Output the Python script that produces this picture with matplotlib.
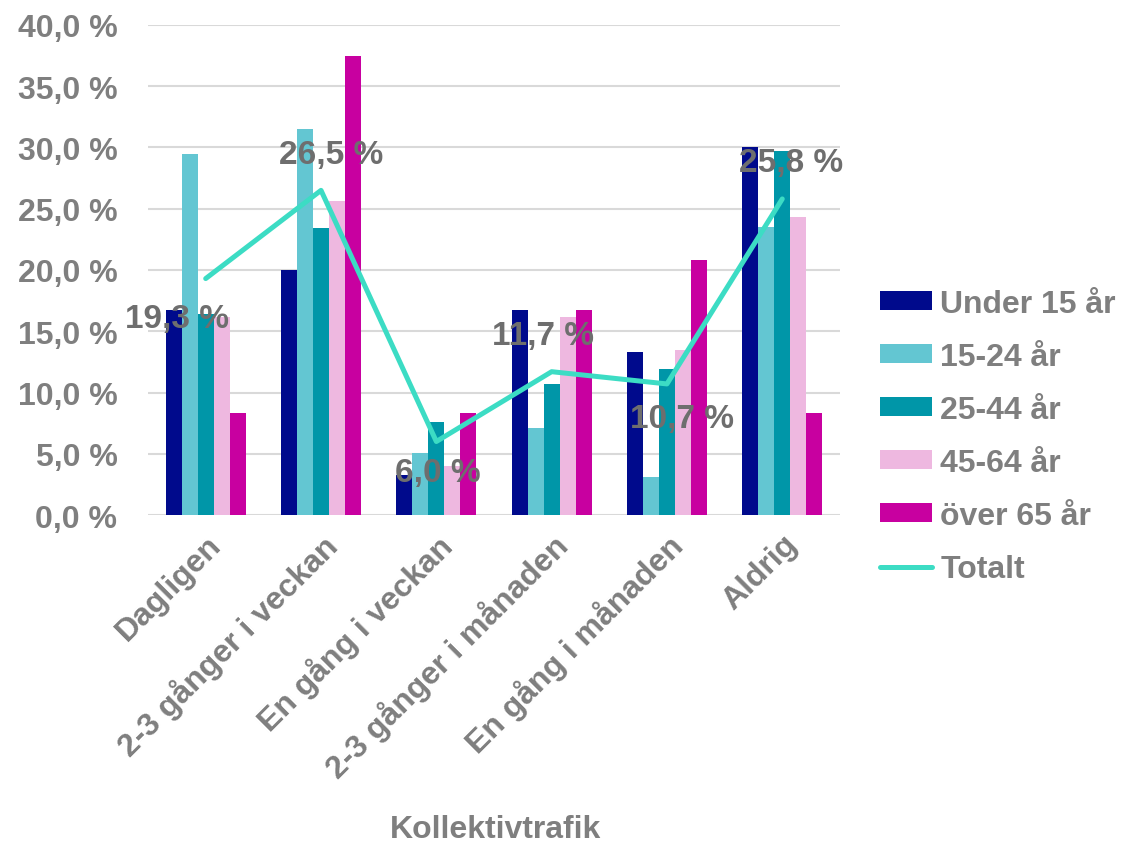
import matplotlib.pyplot as plt
import numpy as np

plt.rcParams['font.family'] = ['Liberation Sans', 'DejaVu Sans']

# Data
categories = ['Dagligen', '2-3 gånger i veckan', 'En gång i veckan',
              '2-3 gånger i månaden', 'En gång i månaden', 'Aldrig']
under_15 = [16.7, 20.0, 3.3, 16.7, 13.3, 30.0]
age_15_24 = [29.5, 31.5, 5.1, 7.1, 3.1, 23.5]
age_25_44 = [16.4, 23.4, 7.6, 10.7, 11.9, 29.7]
age_45_64 = [16.2, 25.6, 4.0, 16.2, 13.5, 24.3]
over_65 = [8.3, 37.5, 8.3, 16.7, 20.8, 8.3]
totalt = [19.3, 26.5, 6.0, 11.7, 10.7, 25.8]

series = [
    ('Under 15 år', under_15, '#000a8c'),
    ('15-24 år', age_15_24, '#63c6d2'),
    ('25-44 år', age_25_44, '#0096a8'),
    ('45-64 år', age_45_64, '#eeb8e0'),
    ('över 65 år', over_65, '#c800a0'),
]

gray = '#7f7f7f'
fig = plt.figure(figsize=(11.25, 8.45), dpi=100)
ax = fig.add_axes([0.1316, 0.3893, 0.615, 0.58])

x = np.arange(len(categories))
w = 0.139
for i, (name, vals, col) in enumerate(series):
    ax.bar(x + (i - 2) * w, vals, width=w, color=col, label=name, zorder=2)

ax.plot(x, totalt, color='#3cdcc4', linewidth=3.6, label='Totalt', zorder=3,
        solid_capstyle='round')

# data labels for the total line (placement offsets in points)
label_dx = [-21, 7, 1, -6, 11, 6]
label_dy = [-29, 26, -22, 26, -25, 26]
for xi, v, dx, dy in zip(x, totalt, label_dx, label_dy):
    ax.annotate(f'{v:.1f} %'.replace('.', ','), (xi, v), xytext=(dx, dy),
                textcoords='offset points', ha='center', va='center',
                fontsize=24, fontweight='bold', color='#6e6e6e', zorder=4)

ax.set_xlim(-0.5, 5.5)
ax.set_ylim(0, 40)
ax.set_yticks(np.arange(0, 41, 5))
ax.set_yticklabels([f'{t:.1f} %'.replace('.', ',') for t in np.arange(0, 41, 5)])
ax.set_xticks(x)
ax.set_xticklabels(categories, rotation=45, ha='right', va='top',
                   rotation_mode='anchor')
ax.tick_params(length=0, labelsize=23, labelcolor=gray)
ax.tick_params(axis='y', pad=22)
ax.tick_params(axis='x', pad=10)
for lab in ax.get_xticklabels() + ax.get_yticklabels():
    lab.set_fontweight('bold')

ax.grid(axis='y', color='#d9d9d9', linewidth=1.5, zorder=0)
ax.set_axisbelow(True)
for s in ax.spines.values():
    s.set_visible(False)

fig.text(0.44, 1 - 830 / 845, 'Kollektivtrafik', fontsize=23,
         fontweight='bold', color=gray, ha='center', va='center')

handles, labels = ax.get_legend_handles_labels()
order = [1, 2, 3, 4, 5, 0]
leg = fig.legend([handles[i] for i in order], [labels[i] for i in order],
                 loc='center left', bbox_to_anchor=(0.757, 0.482),
                 frameon=False, fontsize=23, labelspacing=0.72,
                 handlelength=1.63, handleheight=0.53, handletextpad=0.25)
for t in leg.get_texts():
    t.set_color(gray)
    t.set_fontweight('bold')

plt.savefig('out.png', dpi=100)
